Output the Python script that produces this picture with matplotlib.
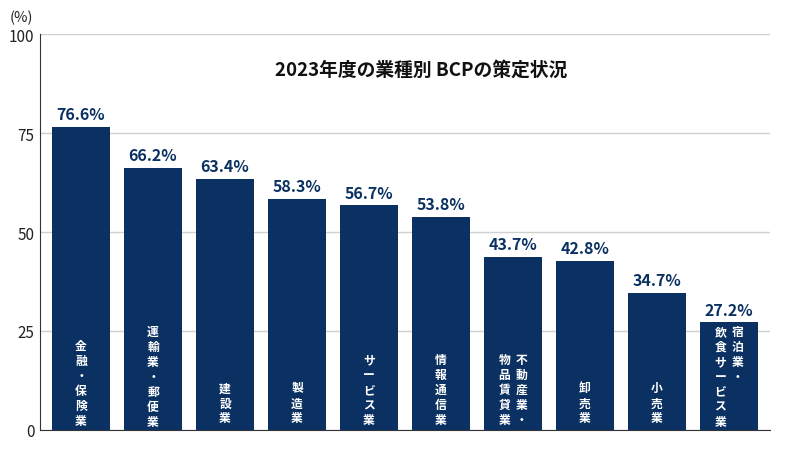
import matplotlib
matplotlib.use("Agg")
import matplotlib.pyplot as plt

plt.rcParams['font.family'] = ['Noto Sans CJK JP']

industries = [["金融・保険業"], ["運輸業・郵便業"], ["建設業"], ["製造業"], ["サービス業"],
              ["情報通信業"], ["不動産業・", "物品賃貸業"], ["卸売業"], ["小売業"], ["宿泊業・", "飲食サービス業"]]
values = [76.6, 66.2, 63.4, 58.3, 56.7, 53.8, 43.7, 42.8, 34.7, 27.2]
yticks = [0, 25, 50, 75, 100]
title = "2023年度の業種別 BCPの策定状況"
navy = "#0b3162"

fig = plt.figure(figsize=(8, 4.56), dpi=100)
ax = fig.add_axes([0.05, 0.055, 0.9125, 0.868])
x = list(range(len(values)))
ax.bar(x, values, width=0.81, color=navy, zorder=3)
ax.set_xlim(-0.57, len(values) - 0.43)
ax.set_ylim(0, 100)
ax.set_yticks(yticks)
ax.set_yticklabels([str(t) for t in yticks], fontsize=11, color="#222222")
ax.set_xticks([])
ax.grid(axis='y', color='#d0d0d0', linewidth=1, zorder=0)
for s in ['top', 'right']:
    ax.spines[s].set_visible(False)
for s in ['left', 'bottom']:
    ax.spines[s].set_color('#333333')
ax.tick_params(axis='y', length=0, pad=4)

px_per_unit = 0.868 * 456 / 100
line_px = 8.5 * 100 / 72 * 1.2
for i, v in enumerate(values):
    ax.text(i, v + 1.2, f"{v}%", ha='center', va='bottom', fontsize=11.5,
            fontweight='bold', color=navy)
    cols = industries[i]
    nmax = max(len(c) for c in cols)
    top = 1.5 + nmax * line_px / px_per_unit
    offs = [0] if len(cols) == 1 else [0.12, -0.12]
    for c, o in zip(cols, offs):
        ax.text(i + o, top, "\n".join(c), ha='center', va='top', fontsize=8.5,
                fontweight='bold', color='white', linespacing=1.2, zorder=4)

fig.text(0.527, 0.845, title, ha='center', va='center', fontsize=13.5, fontweight='bold', color='#111111')
fig.text(0.012, 0.96, "(%)", ha='left', va='center', fontsize=10.5, color='#222222')
fig.savefig("out.png", dpi=100)
